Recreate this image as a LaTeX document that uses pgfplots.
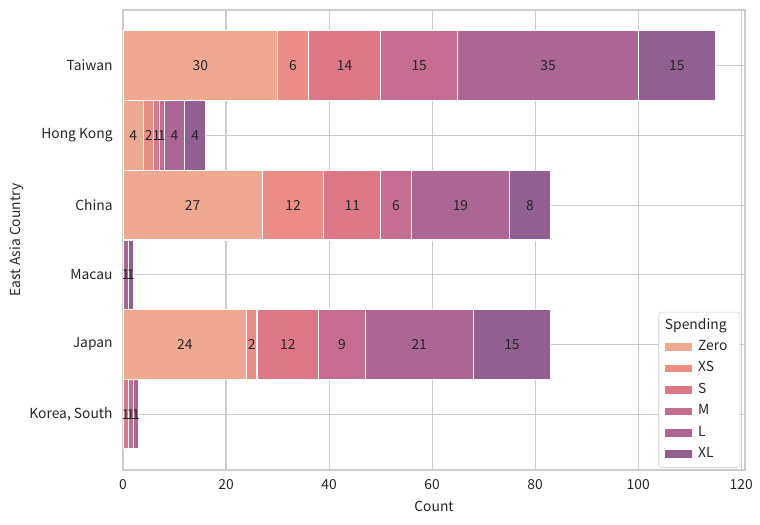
\documentclass[border=0pt]{standalone}
\usepackage{fontspec}
\setmainfont{Noto Sans CJK SC}
\usepackage{pgfplots}
\pgfplotsset{compat=1.18}
\usetikzlibrary{calc}

% flare palette, blended at alpha 0.75 on white
\definecolor{cZero}{HTML}{EEA990}
\definecolor{cXS}{HTML}{EA8E85}
\definecolor{cS}{HTML}{DC7788}
\definecolor{cM}{HTML}{C56D91}
\definecolor{cL}{HTML}{AB6694}
\definecolor{cXL}{HTML}{916091}
\definecolor{gridc}{HTML}{CCCCCC}
\definecolor{txt}{HTML}{262626}

\begin{document}
\begin{tikzpicture}[font=\fontsize{10}{12}\selectfont]
\begin{axis}[
  scale only axis, width=449.5pt, height=332.4pt,
  xmin=0, xmax=120.75, ymin=-0.8, ymax=5.8, y dir=reverse,
  xbar stacked, bar width=1,
  xtick={0,20,...,120}, ytick={0,...,5},
  yticklabels={Taiwan,Hong Kong,China,Macau,Japan,{Korea, South}},
  grid=major, grid style={gridc, line width=0.8pt},
  axis line style={gridc, line width=1pt},
  major tick length=0pt,
  tick label style={text=txt},
  xticklabel style={yshift=-3pt},
  yticklabel style={xshift=-4pt},
  /pgf/number format/assume math mode=true,
  xlabel={Count}, ylabel={East Asia Country},
  every axis x label/.style={at={(rel axis cs:0.5,0)}, anchor=center, yshift=-26.7pt, text=txt},
  every axis y label/.style={at={(rel axis cs:0,0.5)}, xshift=-76.6pt, anchor=center, rotate=90, text=txt},
  legend style={at={(1,0)}, anchor=south east, xshift=-3.5pt, yshift=1.4pt,
    draw=gridc, rounded corners=2pt, fill=white,
    text=txt, cells={anchor=west}, inner xsep=4.5pt, inner ysep=2pt,
    nodes={text height=7.3pt, text depth=2.2pt, inner xsep=4.5pt, inner ysep=3pt}},
  legend image code/.code={\draw[#1,draw=none,sharp corners] (0pt,-2.75pt) rectangle (19.5pt,2.75pt);},
  % segment counts in the middle of each segment, none for empty ones
  point meta=explicit,
  nodes near coords={\pgfmathfloatifflags{\pgfplotspointmeta}{0}{}{\pgfmathprintnumber{\pgfplotspointmeta}}},
  every node near coord/.append style={text=txt, inner sep=0pt},
  bars/.style={draw=white, line width=0.8pt},
]
\addlegendimage{empty legend}
\addlegendentry{\hspace*{-24pt}Spending}

\addplot[bars, fill=cZero] coordinates {(30,0) [30] (4,1) [4] (27,2) [27] (0,3) [0] (24,4) [24] (0,5) [0]};
\addlegendentry{Zero}
\addplot[bars, fill=cXS] coordinates {(6,0) [6] (2,1) [2] (12,2) [12] (0,3) [0] (2,4) [2] (0,5) [0]};
\addlegendentry{XS}
\addplot[bars, fill=cS] coordinates {(14,0) [14] (1,1) [1] (11,2) [11] (0,3) [0] (12,4) [12] (1,5) [1]};
\addlegendentry{S}
\addplot[bars, fill=cM] coordinates {(15,0) [15] (1,1) [1] (6,2) [6] (0,3) [0] (9,4) [9] (1,5) [1]};
\addlegendentry{M}
\addplot[bars, fill=cL] coordinates {(35,0) [35] (4,1) [4] (19,2) [19] (1,3) [1] (21,4) [21] (1,5) [1]};
\addlegendentry{L}
\addplot[bars, fill=cXL] coordinates {(15,0) [15] (4,1) [4] (8,2) [8] (1,3) [1] (15,4) [15] (0,5) [0]};
\addlegendentry{XL}
\end{axis}
\pgfresetboundingbox
\path ($(current axis.south west)+(-88.9pt,-39.7pt)$) rectangle ($(current axis.north east)+(10.8pt,7.2pt)$);
\end{tikzpicture}
\end{document}
